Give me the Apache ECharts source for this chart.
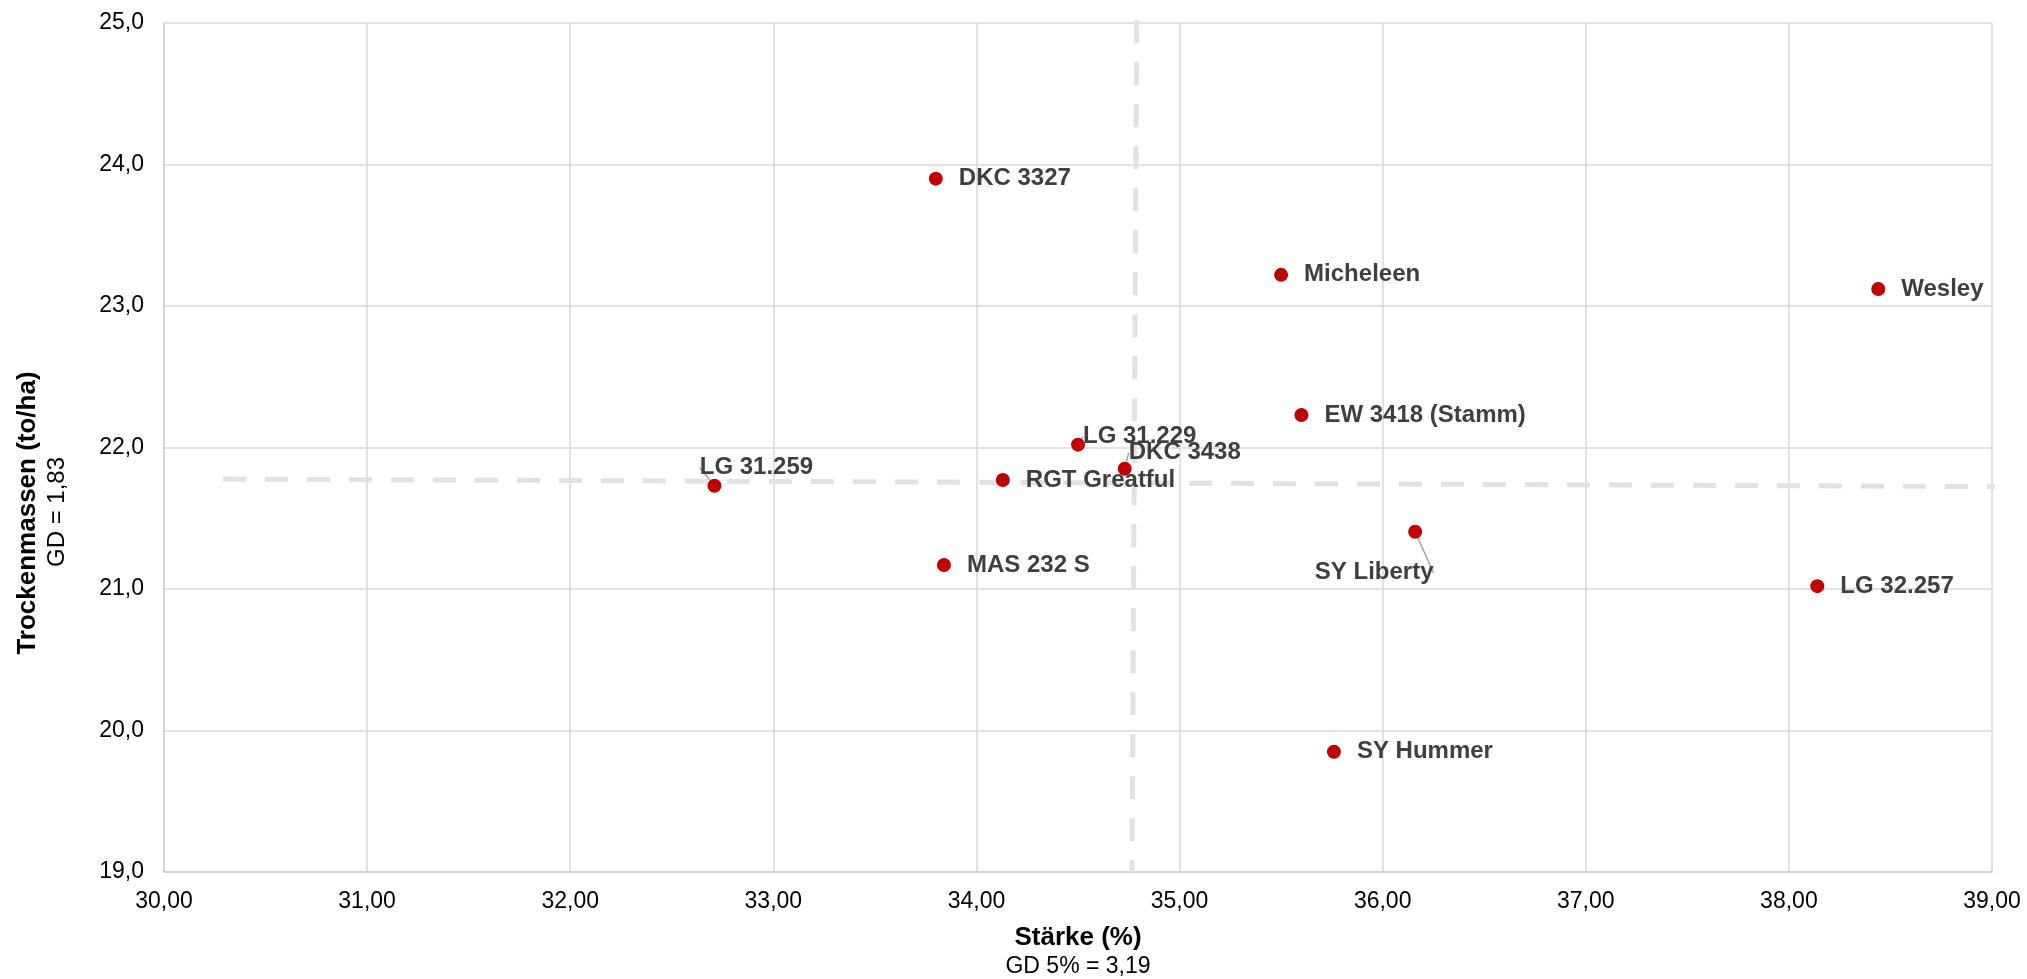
<!DOCTYPE html>
<html>
<head>
<meta charset="utf-8">
<script src="https://cdn.jsdelivr.net/npm/echarts@6/dist/echarts.min.js"></script>
<style>
html,body{margin:0;padding:0;background:#fff;}
#chart{width:2027px;height:979px;}
</style>
</head>
<body>
<div id="chart"></div>
<script>
// ---- data ----
const varieties = ['DKC 3327','Micheleen','Wesley','EW 3418 (Stamm)','LG 31.229','DKC 3438','LG 31.259','RGT Greatful','MAS 232 S','SY Liberty','LG 32.257','SY Hummer'];
const staerke   = [33.80, 35.50, 38.44, 35.60, 34.50, 34.73, 32.71, 34.13, 33.84, 36.16, 38.14, 35.76];
const trockenmasse = [23.90, 23.22, 23.12, 22.23, 22.02, 21.85, 21.73, 21.77, 21.17, 21.405, 21.02, 19.85];
const vLine = [[34.789, 25.02], [34.766, 19.0]];
const hLine = [[30.29, 21.777], [39.10, 21.723]];
const xTicks = {min: 30, max: 39, step: 1};
const yTicks = {min: 19, max: 25, step: 1};

// label placement (styling): [dx from dot centre, dy from dot centre, align]
const labelShift = {
  'LG 31.229': [5, -8, 'left'],
  'DKC 3438': [4, -16, 'left'],
  'SY Liberty': [-41, 41, 'center'],
  'LG 31.259': [42, -18, 'center']
};

const FONT = "'Liberation Sans', Arial, sans-serif";
const chart = echarts.init(document.getElementById('chart'), null, {renderer: 'canvas'});

const points = varieties.map((n, i) => {
  const item = {name: n, value: [staerke[i], trockenmasse[i]]};
  if (labelShift[n]) item.labelLine = {show: true};
  return item;
});

const dashStyle = {color: '#e2e2e2', width: 5, type: [23, 19], opacity: 1};

chart.setOption({
  animation: false,
  backgroundColor: '#fff',
  grid: {left: 164, right: 35, top: 23, bottom: 107, containLabel: false},
  xAxis: {
    type: 'value', min: xTicks.min, max: xTicks.max, interval: xTicks.step,
    axisLine: {show: true, lineStyle: {color: '#cfcfcf', width: 1.5}},
    axisTick: {show: false},
    splitLine: {show: true, lineStyle: {color: '#d9d9d9', width: 1.5}},
    axisLabel: {color: '#000', fontFamily: FONT, fontSize: 23, margin: 18,
      formatter: v => v.toFixed(2).replace('.', ',')}
  },
  yAxis: {
    type: 'value', min: yTicks.min, max: yTicks.max, interval: yTicks.step,
    axisLine: {show: true, lineStyle: {color: '#cfcfcf', width: 1.5}},
    axisTick: {show: false},
    splitLine: {show: true, lineStyle: {color: '#d9d9d9', width: 1.5}},
    axisLabel: {color: '#000', fontFamily: FONT, fontSize: 23, margin: 20,
      formatter: v => v.toFixed(1).replace('.', ',')}
  },
  graphic: [
    {type: 'text', x: 28, y: 513, rotation: Math.PI / 2,
      style: {text: 'Trockenmassen (to/ha)', font: "bold 26px " + FONT, fill: '#000', textAlign: 'center', textVerticalAlign: 'middle'}},
    {type: 'text', x: 57, y: 512, rotation: Math.PI / 2,
      style: {text: 'GD = 1,83', font: "24px " + FONT, fill: '#000', textAlign: 'center', textVerticalAlign: 'middle'}},
    {type: 'text', x: 1078, y: 938,
      style: {text: 'Stärke (%)', font: "bold 26px " + FONT, fill: '#000', textAlign: 'center', textVerticalAlign: 'middle'}},
    {type: 'text', x: 1078, y: 967,
      style: {text: 'GD 5% = 3,19', font: "23px " + FONT, fill: '#000', textAlign: 'center', textVerticalAlign: 'middle'}}
  ],
  series: [
    {type: 'line', data: vLine, symbol: 'none', silent: true, clip: false,
      lineStyle: dashStyle, z: 1},
    {type: 'line', data: hLine, symbol: 'none', silent: true, clip: false,
      lineStyle: dashStyle, z: 1},
    {
      type: 'scatter', data: points, symbol: 'circle', symbolSize: 14, z: 3,
      itemStyle: {color: '#c00000', opacity: 1},
      label: {show: true, position: 'right', distance: 16, formatter: p => p.name,
        color: '#3f3f3f', fontFamily: FONT, fontWeight: 'bold', fontSize: 24},
      labelLine: {show: false, lineStyle: {color: '#a6a6a6', width: 1.5}},
      labelLayout: function (params) {
        const n = varieties[params.dataIndex];
        const s = labelShift[n];
        if (!s) return {};
        const cx = params.rect.x + params.rect.width / 2;
        const cy = params.rect.y + params.rect.height / 2;
        return {x: cx + s[0], y: cy + s[1], align: s[2], verticalAlign: 'middle'};
      }
    }
  ]
});
</script>
</body>
</html>
